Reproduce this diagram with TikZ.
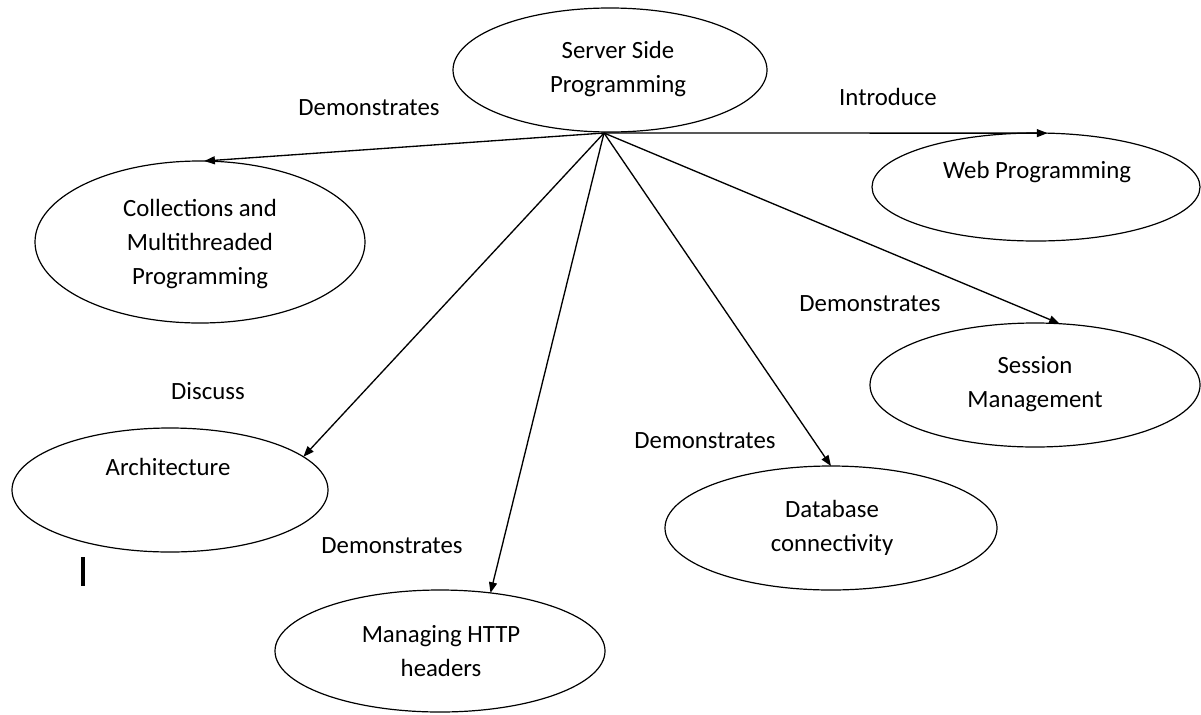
\documentclass[tikz,border=0pt]{standalone}
\usepackage{fontspec}
\setmainfont{Carlito}
\usetikzlibrary{shapes.geometric,arrows.meta}
\begin{document}
\begin{tikzpicture}[x=0.75pt,y=-0.75pt,
  topic/.style={ellipse,draw,line width=0.9pt,inner sep=0pt,outer sep=0pt},
  txt/.style={align=center,inner sep=0pt,font=\fontsize{18.6}{25.5}\selectfont},
  arr/.style={line width=1pt,-{Triangle[length=8pt,width=6pt]}}]
\useasboundingbox (0,0) rectangle (1201,714);

% topic ellipses
\node[topic,minimum width=235.5pt,minimum height=93pt] (server) at (610,70) {};
\node[topic,minimum width=247.5pt,minimum height=121.5pt] (coll) at (200,242) {};
\node[topic,minimum width=246pt,minimum height=81pt] (web) at (1036,187) {};
\node[topic,minimum width=247.5pt,minimum height=93pt] (sess) at (1035,385) {};
\node[topic,minimum width=237pt,minimum height=93pt] (arch) at (170,490) {};
\node[topic,minimum width=249pt,minimum height=93pt] (db) at (831,528) {};
\node[topic,minimum width=247.5pt,minimum height=91.5pt] (http) at (440,651) {};

% ellipse captions
\node[txt] (serverT) at (618,69) {Server Side\\Programming};
\node[txt] (collT) at (200,244) {Collections and\\Multithreaded\\Programming};
\node[txt] (webT) at (1037,172) {Web Programming};
\node[txt] (sessT) at (1035,384) {Session\\Management};
\node[txt] (archT) at (168,467) {Architecture};
\node[txt] (dbT) at (832,528) {Database\\connectivity};
\node[txt] (httpT) at (441,651) {Managing HTTP\\headers};

% hub under the central topic
\coordinate (hub) at (604,133);

% connectors
\draw[arr] (hub) -- (coll.87);
\draw[arr] (hub) -- (web.78);
\draw[arr] (hub) -- (sess.68);
\draw[arr] (hub) -- (db.north);
\draw[arr] (hub) -- (http.49.6);
\draw[arr] (hub) -- (arch.14.5);

% connector labels
\node[txt] (l1) at (369,108) {Demonstrates};
\node[txt] (l2) at (888,97) {Introduce};
\node[txt] (l3) at (870,304) {Demonstrates};
\node[txt] (l4) at (208,391) {Discuss};
\node[txt] (l5) at (705,441) {Demonstrates};
\node[txt] (l6) at (392,546) {Demonstrates};

% text cursor mark
\draw[line width=3pt] (83,557) -- (83,586);
\end{tikzpicture}
\end{document}
